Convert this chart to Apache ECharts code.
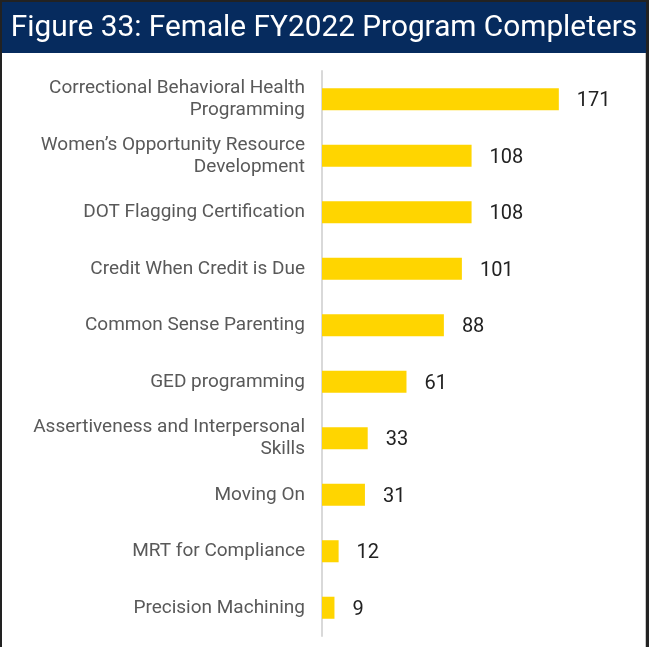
<!DOCTYPE html>
<html>
<head>
<meta charset="utf-8">
<style>
  html, body { margin: 0; padding: 0; background: #222; }
  #chart { width: 649px; height: 647px; }
</style>
<script src="https://cdn.jsdelivr.net/npm/echarts@6/dist/echarts.min.js"></script>
</head>
<body>
<div id="chart"></div>
<script>
// Female FY2022 program completers, top to bottom
const titleText = 'Figure 33: Female FY2022 Program Completers';
const categories = [
  'Correctional Behavioral Health\nProgramming',
  'Women\u2019s Opportunity Resource\nDevelopment',
  'DOT Flagging Certification',
  'Credit When Credit is Due',
  'Common Sense Parenting',
  'GED programming',
  'Assertiveness and Interpersonal\nSkills',
  'Moving On',
  'MRT for Compliance',
  'Precision Machining'
];
const completers = [171, 108, 108, 101, 88, 61, 33, 31, 12, 9];

const chart = echarts.init(document.getElementById('chart'), null, { renderer: 'canvas' });

chart.setOption({
  backgroundColor: '#222222',
  animation: false,
  textStyle: { fontFamily: 'Roboto' },
  graphic: [
    // white panel inside the dark frame
    { type: 'rect', z: -10, shape: { x: 2, y: 2, width: 644, height: 645 }, style: { fill: '#ffffff' } },
    { type: 'rect', z: -9, shape: { x: 645, y: 53, width: 1, height: 594 }, style: { fill: '#c8c8c8' } },
    // navy header band
    { type: 'rect', z: -8, shape: { x: 2, y: 2, width: 644, height: 51 }, style: { fill: '#062b5e' } },
    {
      type: 'text', z: 10, x: 324, y: 29,
      style: {
        text: titleText, fill: '#ffffff',
        font: '29.8px Roboto', align: 'center', verticalAlign: 'middle'
      }
    }
  ],
  grid: { left: 322, top: 71, width: 277, height: 565, containLabel: false },
  xAxis: { type: 'value', min: 0, max: 200, show: false },
  yAxis: {
    type: 'category',
    inverse: true,
    data: categories,
    axisLine: { show: true, lineStyle: { color: '#d9d9d9', width: 2 } },
    axisTick: { show: false },
    axisLabel: {
      margin: 17, color: '#595959', fontSize: 19, lineHeight: 22,
      fontFamily: 'Roboto', align: 'right', padding: [6, 0, 0, 0]
    }
  },
  series: [{
    type: 'bar',
    data: completers,
    barCategoryGap: '61%',
    itemStyle: { color: '#ffd500' },
    label: {
      show: true, position: 'right', distance: 18, offset: [0, 2],
      color: '#222222', fontSize: 20, fontFamily: 'Roboto'
    }
  }]
});
</script>
</body>
</html>
